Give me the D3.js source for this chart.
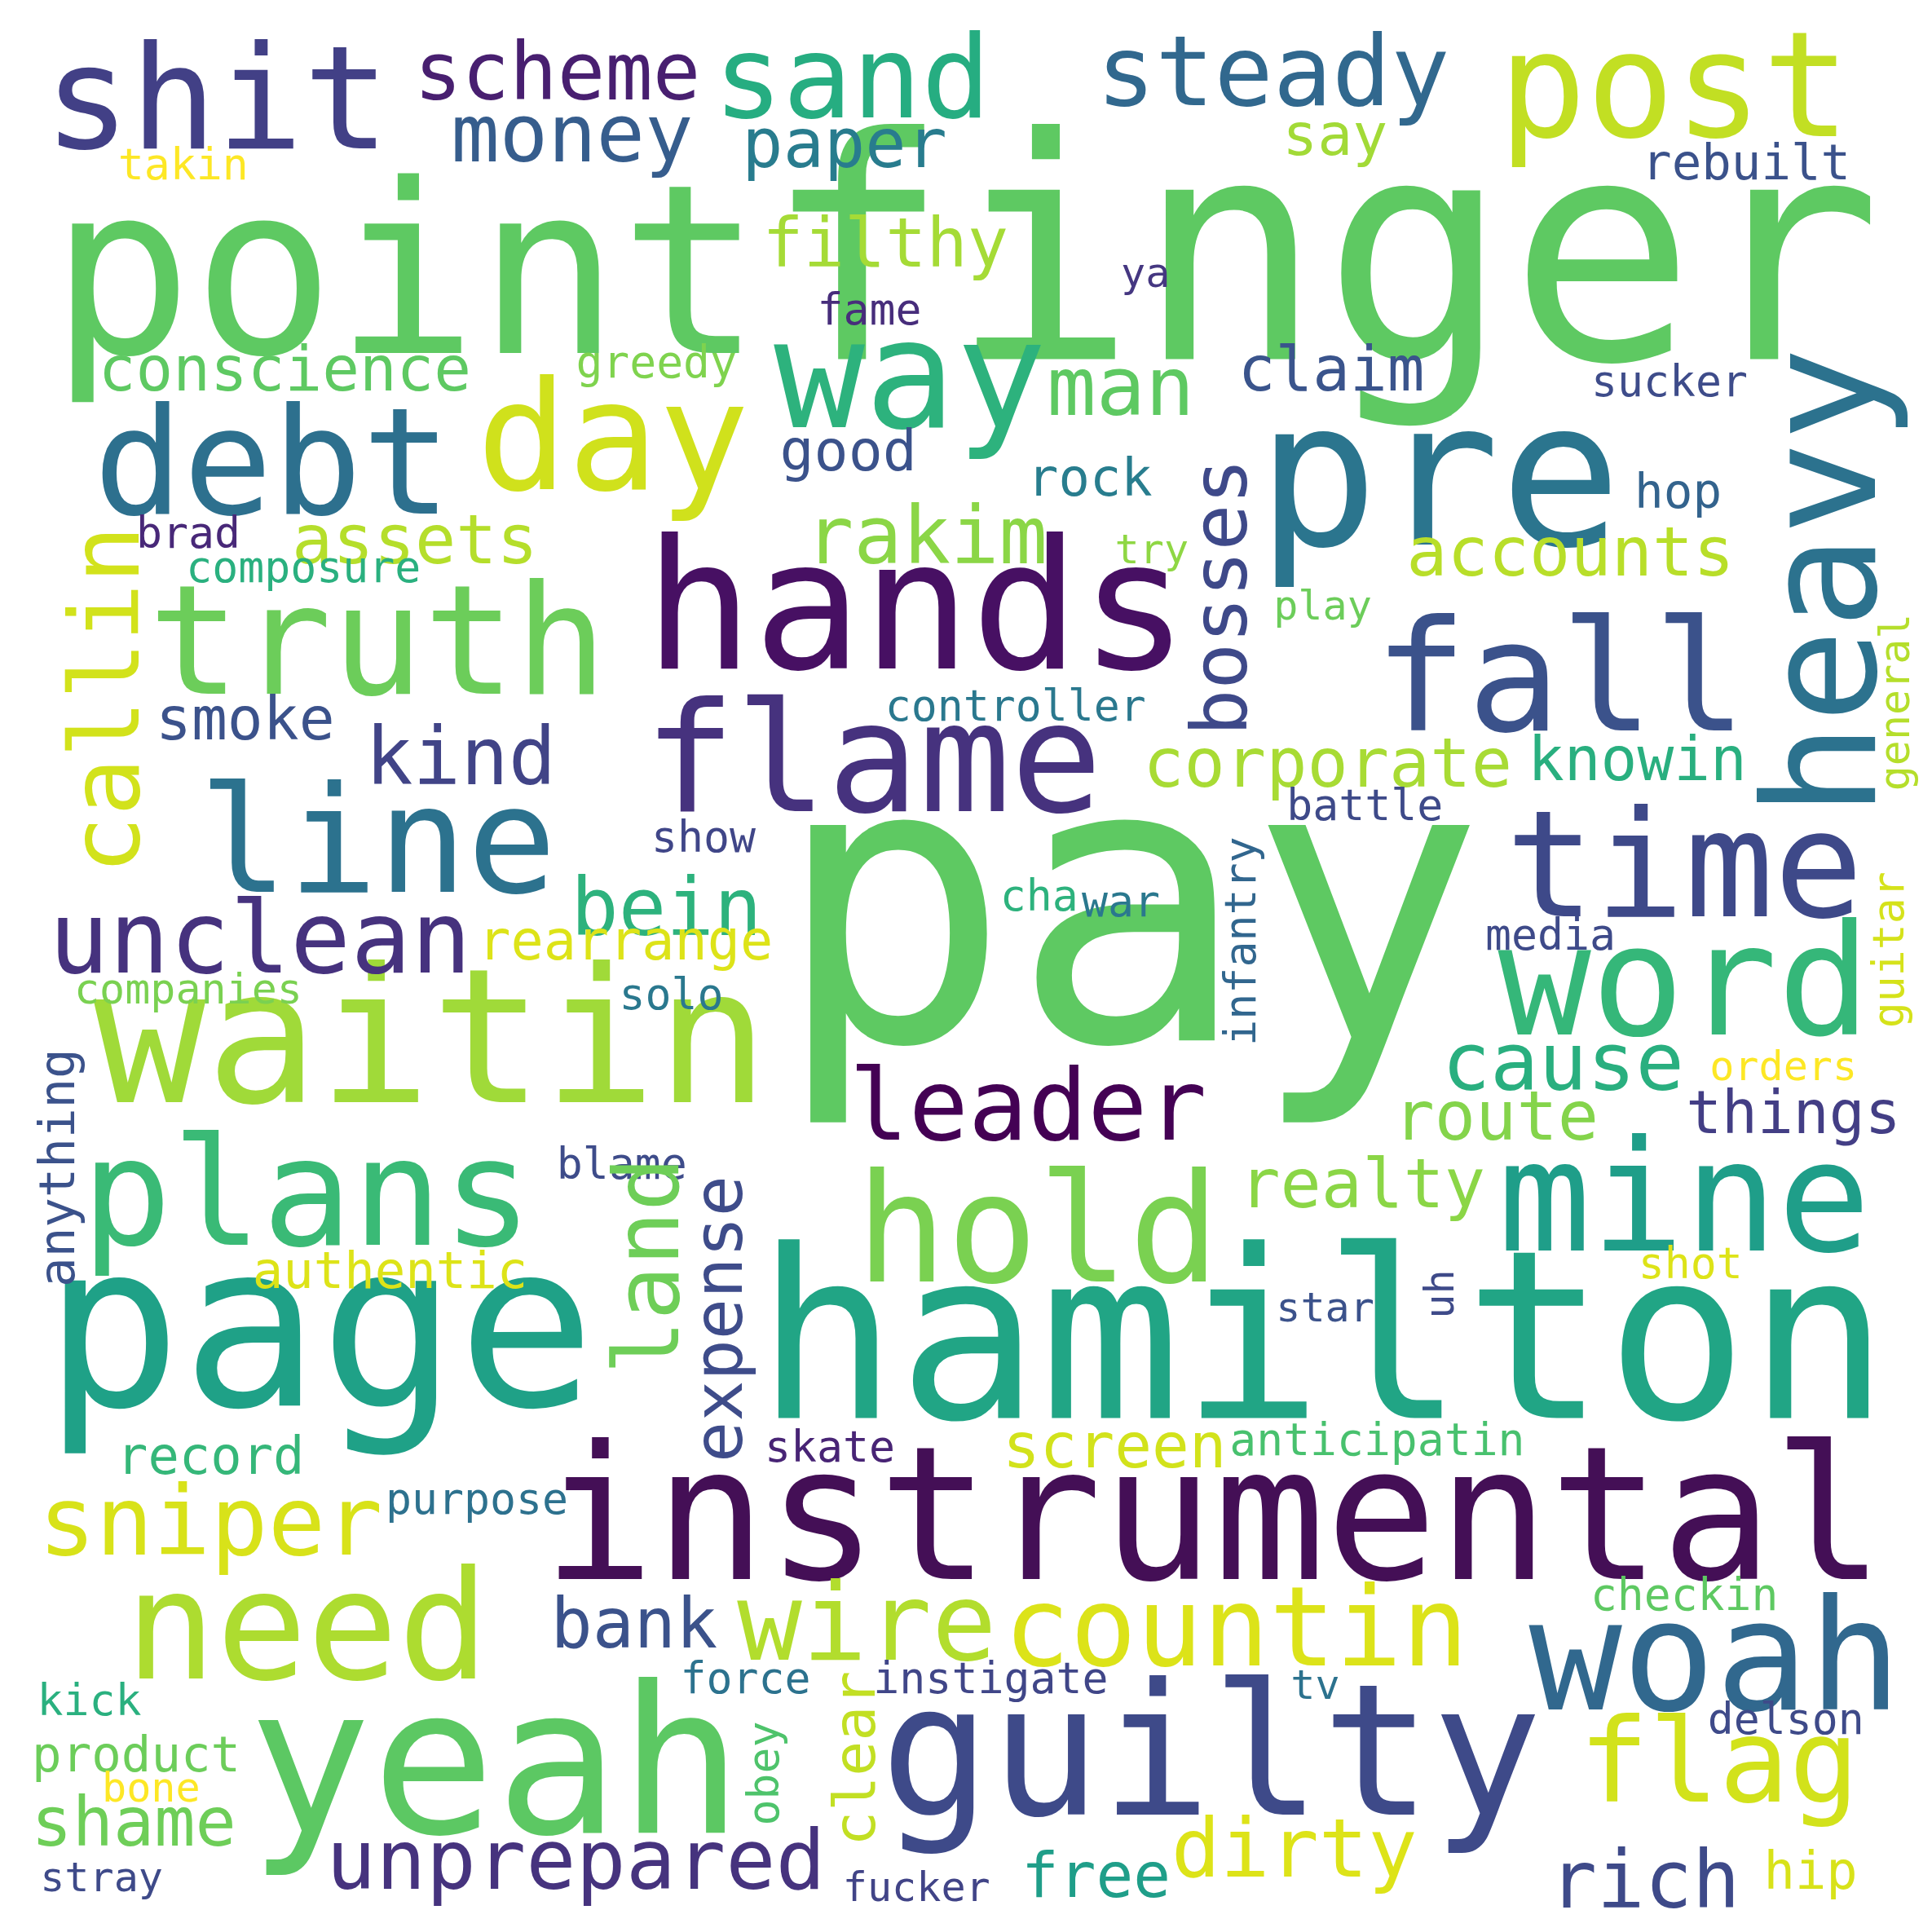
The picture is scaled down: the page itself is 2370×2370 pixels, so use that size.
<!DOCTYPE html>
<html lang='en'>
<head>
   <meta charset='UTF-8'>
   <script src="https://cdnjs.cloudflare.com/ajax/libs/d3/7.8.5/d3.min.js"></script>
   <style>
      body { margin: 0; background: #fff; }
      svg { display: block; }
      text { font-family: 'DejaVu Sans Mono', monospace; }
   </style>
</head>
<body>
   <svg id='cloud'></svg>
   <script>
      'use strict'

      // words (layout units 0..1560)
      const words = ['pay','finger','point','hamilton','instrumental','page','yeah','guilty','waitin','hands','pre','heavy','fall','time','word','mine','hold','flame','line','truth','debt','day','way','shit','post','sand','steady','scheme','money','paper','say','rebuilt','takin','filthy','ya','fame','conscience','greedy','man','claim','sucker','good','rock','hop','rakim','assets','brad','composure','try','accounts','bosses','callin','play','general','smoke','controller','kind','corporate','knowin','battle','show','bein','unclean','rearrange','cha','war','infantry','guitar','media','companies','solo','leader','cause','orders','route','things','anything','blame','plans','land','expense','realty','authentic','shot','uh','star','record','screen','anticipatin','skate','purpose','sniper','need','bank','wire','countin','woah','checkin','force','instigate','tv','kick','clear','obey','delson','product','flag','bone','shame','unprepared','free','dirty','rich','hip','stray','fucker']
      const wordX = [912,1068,328,1068,980,258,400,978,348,740,1162,1470,1260,1360,1360,1360,838,705,305,305,220,495,735,175,1352,688,1028,450,462,682,1078,1410,148,715,925,702,230,530,905,1075,1348,685,880,1355,748,335,152,245,930,1268,985,85,1068,1530,198,820,372,1072,1322,1102,568,538,210,505,839,905,1002,1525,1252,152,542,830,1262,1440,1208,1448,46,502,248,522,580,1100,315,1365,1162,1070,170,900,1112,670,385,170,248,512,700,998,1385,1360,602,800,1062,72,690,617,1442,110,1388,122,108,465,885,1045,1328,1462,82,740]
      const wordY = [840,290,285,1145,1275,1135,1480,1465,890,540,440,470,590,740,835,1010,1035,655,720,560,415,395,345,120,110,95,85,80,130,135,125,145,145,215,232,262,315,305,335,315,320,380,400,410,455,455,442,470,455,465,482,565,500,567,597,582,633,635,630,662,688,755,785,775,735,740,760,767,767,810,815,920,880,872,920,915,943,952,1005,1022,1065,975,1040,1032,1045,1067,1190,1185,1175,1180,1222,1255,1355,1330,1340,1345,1380,1300,1367,1367,1372,1385,1420,1432,1400,1430,1455,1455,1490,1525,1532,1515,1540,1525,1527,1535]
      const wordSize = [318,250,191,190,150,185,166,148,151,146,163,126,125,120,125,125,122,123,120,123,120,122,122,116,118,93,79,64,65,55,47,40,35,55,33,35,50,36,66,50,35,46,42,39,65,55,35,35,33,55,62,78,33,34,48,35,64,55,49,35,35,64,81,44,35,35,35,35,35,34,35,80,65,33,55,48,40,35,121,73,55,55,41,35,33,33,42,50,36,35,35,77,122,56,87,89,125,36,35,35,33,35,47,35,35,40,94,33,55,67,50,66,64,42,33,33]
      const wordVertical = ['heavy','bosses','callin','general','infantry','guitar','anything','land','expense','uh','clear','obey']
      const wordColor = ['#5ec962','#5ec962','#5ec962','#21a585','#440f56','#1fa187','#5cc863','#3e4a89','#a0da39','#471063','#2b758e','#2c728e','#3b528b','#3e4989','#35b779','#1f9e89','#7ad151','#46327e','#2c728e','#6ccd5a','#2d708e','#d0e11c','#2db27d','#424086','#c2df23','#26ad81','#31688e','#481f70','#365d8d','#287c8e','#a2da37','#3b528b','#fde725','#a5db36','#453781','#472d7b','#5ec962','#7fd34e','#5ec962','#3a548c','#3e4c8a','#3b528b','#287d8e','#33638d','#8bd646','#b5de2b','#482878','#2ab07f','#8fd744','#b8de29','#3e4989','#d2e21b','#6ccd5a','#b5de2b','#3b528b','#2a788e','#414487','#a8db34','#29af7f','#3e4a89','#404688','#2db27d','#46327e','#dde318','#2db27d','#2a788e','#31668e','#d5e21a','#3e4a89','#7ad151','#2a788e','#440154','#29af7f','#fde725','#84d44b','#433e85','#3b528b','#3e4c8a','#3aba76','#6ece58','#3e4c8a','#8bd646','#dde318','#dde318','#3e4a89','#3b528b','#35b779','#d2e21b','#48c16e','#482475','#2d718e','#d8e219','#addc30','#3b528b','#b2dd2d','#dce319','#31688e','#5ec962','#2c728e','#404688','#2c728e','#2ab07f','#c2df23','#4ec36b','#3e4a89','#6ccd5a','#d2e21b','#fde725','#6ece58','#46337e','#1f9e89','#dde318','#3e4a89','#d8e219','#3e4a89','#414487']

      const W = 2370, H = 2370
      const svg = d3.select('svg').attr('width', W).attr('height', H)
      svg.append('rect').attr('width', W).attr('height', H).attr('fill', '#fff')

      const px = d3.scaleLinear([0, 1560], [0, W])
      const py = d3.scaleLinear([0, 1560], [0, H])
      const fs = d3.scaleLinear([0, 1560], [0, W])

      const data = words.map((w, i) => ({
         w, x: wordX[i], y: wordY[i], s: wordSize[i], c: wordColor[i],
         v: wordVertical.includes(w)
      }))

      svg.selectAll('text.word')
         .data(data)
         .enter()
         .append('text')
         .attr('class', 'word')
         .attr('text-anchor', 'middle')
         .attr('dominant-baseline', d => d.v ? 'central' : 'alphabetic')
         .attr('transform', d => `translate(${px(d.x)},${py(d.y)})` + (d.v ? ' rotate(-90)' : ''))
         .attr('font-size', d => fs(d.s))
         .attr('fill', d => d.c)
         .text(d => d.w)
   </script>
</body>
</html>
